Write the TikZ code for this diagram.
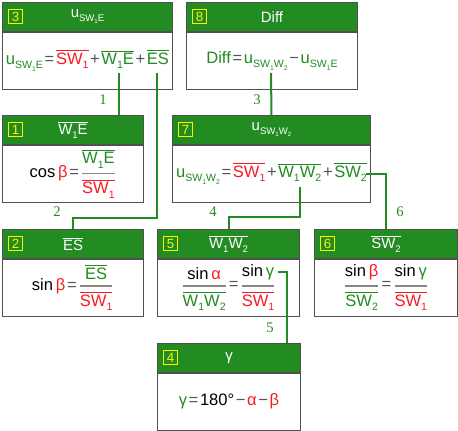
\documentclass[tikz,border=0pt]{standalone}
\usepackage{amsmath}
\usepackage{graphicx}
\usepackage{fontspec}
\setmainfont{Liberation Sans}
\newfontfamily\labfont{Liberation Serif}
\usetikzlibrary{positioning}

\definecolor{hdgreen}{RGB}{34,139,34}
\definecolor{grn}{RGB}{34,139,34}
\definecolor{rd}{RGB}{250,25,35}
\definecolor{frame}{RGB}{80,80,80}
\definecolor{opgray}{RGB}{85,85,85}
\definecolor{barg}{RGB}{135,135,135}

\newcommand\lo[1]{\raisebox{-0.5ex}{\scalebox{0.64}{#1}}}
\newcommand\ol[1]{\ensuremath{\overline{\hbox{#1}}}}
\newcommand\fr[2]{\ensuremath{\color{barg}\genfrac{}{}{1.2pt}{0}{\hbox{\color{black}#1}}{\hbox{\color{black}#2}}}}
\newcommand\opr[1]{\hspace{0.1em}{\color{opgray}#1}\hspace{0.1em}}

\begin{document}
\begin{tikzpicture}[x=0.75pt, y=-0.75pt,
    hd/.style={draw=frame, line width=0.75pt, fill=hdgreen, text=white, anchor=north west,
      minimum height=21.4pt, inner sep=0pt, font=\fontsize{11.2}{13}\selectfont},
    bd/.style={draw=frame, line width=0.75pt, fill=white, minimum height=43pt,
      inner sep=0pt, font=\fontsize{12.4}{15}\selectfont},
    num/.style={draw=yellow, line width=0.75pt, text=yellow, minimum size=10.5pt,
      inner sep=0pt, font=\fontsize{10}{12}\selectfont},
    link/.style={draw=hdgreen, line width=1.5pt},
    lab/.style={text=hdgreen, font=\labfont\fontsize{11}{13}\selectfont}]
  \useasboundingbox (0,0) rectangle (458,431);

  % row 1
  \node[hd, minimum width=127.5pt] (h3) at (2,2) {u\lo{SW\lo{1}E}};
  \node[bd, minimum width=127.5pt, below=0pt of h3] (b3)
    {{\color{grn}u\lo{SW\lo{1}E}}\opr{=}{\color{rd}\ol{SW\lo{1}}}\opr{+}{\color{grn}\ol{W\lo{1}E}}\opr{+}{\color{grn}\ol{ES}}};
  \node[num, right=4.5pt of h3.west] (n3) {3};

  \node[hd, minimum width=128.25pt] (h8) at (186,2) {Diff};
  \node[bd, minimum width=128.25pt, below=0pt of h8] (b8)
    {{\color{grn}Diff}\opr{=}{\color{grn}u\lo{SW\lo{1}W\lo{2}}}\opr{−}{\color{grn}u\lo{SW\lo{1}E}}};
  \node[num, right=4.5pt of h8.west] (n8) {8};

  % row 2
  \node[hd, minimum width=105.75pt] (h1) at (2,115) {\ol{W\lo{1}E}};
  \node[bd, minimum width=105.75pt, below=0pt of h1] (b1)
    {cos\,{\color{rd}β}\opr{=}\fr{{\color{grn}\ol{W\lo{1}E}}}{{\color{rd}\ol{SW\lo{1}}}}};
  \node[num, right=4.5pt of h1.west] (n1) {1};

  \node[hd, minimum width=148.5pt] (h7) at (172,115) {u\lo{SW\lo{1}W\lo{2}}};
  \node[bd, minimum width=148.5pt, below=0pt of h7] (b7)
    {{\color{grn}u\lo{SW\lo{1}W\lo{2}}}\opr{=}{\color{rd}\ol{SW\lo{1}}}\opr{+}{\color{grn}\ol{W\lo{1}W\lo{2}}}\opr{+}{\color{grn}\ol{SW\lo{2}}}};
  \node[num, right=4.5pt of h7.west] (n7) {7};

  % row 3
  \node[hd, minimum width=105.75pt] (h2) at (2,229) {\ol{ES}};
  \node[bd, minimum width=105.75pt, below=0pt of h2] (b2)
    {sin\,{\color{rd}β}\opr{=}\fr{{\color{grn}\ol{ES}}}{{\color{rd}\ol{SW\lo{1}}}}};
  \node[num, right=4.5pt of h2.west] (n2) {2};

  \node[hd, minimum width=106.5pt] (h5) at (157,229) {\ol{W\lo{1}W\lo{2}}};
  \node[bd, minimum width=106.5pt, below=0pt of h5] (b5)
    {\fr{sin\,{\color{rd}α}}{{\color{grn}\ol{W\lo{1}W\lo{2}}}}\opr{=}\fr{sin\,{\color{grn}γ}}{{\color{rd}\ol{SW\lo{1}}}}};
  \node[num, right=4.5pt of h5.west] (n5) {5};

  \node[hd, minimum width=107.25pt] (h6) at (314,229) {\ol{SW\lo{2}}};
  \node[bd, minimum width=107.25pt, below=0pt of h6] (b6)
    {\fr{sin\,{\color{rd}β}}{{\color{grn}\ol{SW\lo{2}}}}\opr{=}\fr{sin\,{\color{grn}γ}}{{\color{rd}\ol{SW\lo{1}}}}};
  \node[num, right=4.5pt of h6.west] (n6) {6};

  % row 4
  \node[hd, minimum width=107.25pt] (h4) at (157,343) {γ};
  \node[bd, minimum width=107.25pt, below=0pt of h4] (b4)
    {{\color{grn}γ}\opr{=}180°\opr{−}{\color{rd}α}\opr{−}{\color{rd}β}};
  \node[num, right=4.5pt of h4.west] (n4) {4};

  % term anchors
  \coordinate (t1) at (119,73);
  \coordinate (t2) at (157,73);
  \coordinate (t3) at (271,73);
  \coordinate (t4) at (300,187);
  \coordinate (t6) at (366,174);
  \coordinate (t5) at (278,272);

  % links
  \draw[link] (t1) -- (t1 |- h1.north);
  \draw[link] (t2) -- ++(0,145) -| (h2.north);
  \draw[link] (t3) -- (h7.north);
  \draw[link] (t4) -- ++(0,30) -| (h5.north);
  \draw[link] (t6) -| (h6.north);
  \draw[link] (t5) -- ++(9,0) coordinate (k5) -- (k5 |- h4.north);

  \node[lab] (l1) at (103,100) {1};
  \node[lab] (l2) at (57,212) {2};
  \node[lab] (l3) at (257,100) {3};
  \node[lab] (l4) at (213,212) {4};
  \node[lab] (l6) at (400,212) {6};
  \node[lab] (l5) at (270,328) {5};
\end{tikzpicture}
\end{document}
